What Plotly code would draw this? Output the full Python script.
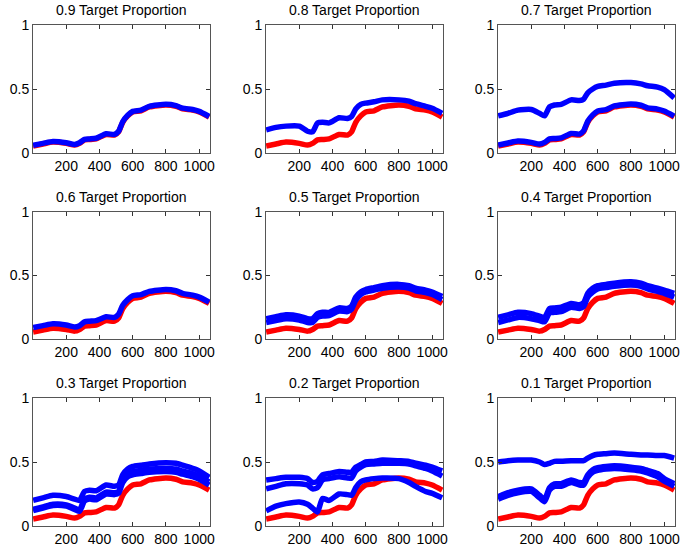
import plotly.graph_objects as go

# Shared wavelength/band grid (x)
X = [1, 60, 120, 200, 250, 280, 310, 340, 380, 440, 490, 515, 540, 570, 600, 650, 700, 800, 860, 900, 960, 1000, 1060]

# Target spectrum (red), same in every panel
TARGET = [0.055, 0.07, 0.085, 0.075, 0.062, 0.075, 0.102, 0.105, 0.11, 0.145, 0.14, 0.165, 0.24, 0.29, 0.32, 0.33, 0.36, 0.375, 0.365, 0.345, 0.335, 0.32, 0.28]

# Mixed spectra (blue) per target proportion
P09 = [[0.06, 0.075, 0.09, 0.08, 0.066, 0.08, 0.107, 0.11, 0.115, 0.15, 0.145, 0.17, 0.245, 0.295, 0.325, 0.335, 0.365, 0.38, 0.37, 0.35, 0.34, 0.325, 0.285]]
P08 = [[0.18, 0.20, 0.21, 0.21, 0.17, 0.165, 0.235, 0.24, 0.235, 0.275, 0.27, 0.285, 0.345, 0.38, 0.39, 0.40, 0.415, 0.415, 0.405, 0.385, 0.365, 0.35, 0.31]]
P07 = [[0.29, 0.31, 0.335, 0.34, 0.31, 0.29, 0.36, 0.375, 0.38, 0.415, 0.41, 0.42, 0.47, 0.50, 0.52, 0.53, 0.545, 0.55, 0.54, 0.525, 0.515, 0.495, 0.43],
       [0.063, 0.078, 0.093, 0.083, 0.07, 0.083, 0.11, 0.113, 0.118, 0.153, 0.148, 0.173, 0.248, 0.298, 0.328, 0.338, 0.368, 0.383, 0.373, 0.353, 0.343, 0.328, 0.288]]
P06 = [[0.09, 0.105, 0.12, 0.11, 0.095, 0.105, 0.135, 0.14, 0.145, 0.175, 0.17, 0.195, 0.265, 0.31, 0.34, 0.35, 0.375, 0.39, 0.38, 0.36, 0.345, 0.33, 0.29]]
P05 = [[0.16, 0.175, 0.19, 0.18, 0.16, 0.16, 0.20, 0.21, 0.21, 0.245, 0.24, 0.26, 0.33, 0.37, 0.39, 0.405, 0.42, 0.43, 0.42, 0.40, 0.385, 0.37, 0.335],
       [0.13, 0.145, 0.16, 0.15, 0.13, 0.13, 0.17, 0.18, 0.185, 0.22, 0.215, 0.235, 0.305, 0.35, 0.37, 0.385, 0.40, 0.41, 0.40, 0.38, 0.365, 0.35, 0.31]]
P04 = [[0.17, 0.19, 0.21, 0.20, 0.18, 0.17, 0.24, 0.245, 0.25, 0.28, 0.27, 0.285, 0.36, 0.40, 0.42, 0.43, 0.44, 0.45, 0.44, 0.42, 0.40, 0.385, 0.36],
       [0.13, 0.15, 0.17, 0.16, 0.145, 0.135, 0.205, 0.21, 0.215, 0.25, 0.24, 0.255, 0.33, 0.37, 0.395, 0.405, 0.415, 0.425, 0.415, 0.395, 0.375, 0.36, 0.33]]
P03 = [[0.20, 0.22, 0.24, 0.23, 0.21, 0.20, 0.27, 0.28, 0.275, 0.32, 0.31, 0.32, 0.40, 0.445, 0.465, 0.475, 0.485, 0.495, 0.49, 0.475, 0.45, 0.43, 0.38],
       [0.13, 0.15, 0.17, 0.165, 0.14, 0.125, 0.21, 0.225, 0.22, 0.265, 0.26, 0.27, 0.36, 0.405, 0.425, 0.435, 0.445, 0.45, 0.445, 0.43, 0.41, 0.39, 0.345],
       [0.12, 0.14, 0.16, 0.155, 0.13, 0.115, 0.195, 0.21, 0.205, 0.25, 0.245, 0.255, 0.34, 0.385, 0.40, 0.41, 0.42, 0.425, 0.42, 0.405, 0.385, 0.365, 0.32]]
P02 = [[0.36, 0.37, 0.38, 0.38, 0.37, 0.34, 0.35, 0.40, 0.41, 0.425, 0.42, 0.42, 0.46, 0.48, 0.50, 0.505, 0.515, 0.51, 0.505, 0.49, 0.475, 0.46, 0.43],
       [0.29, 0.31, 0.33, 0.33, 0.32, 0.29, 0.30, 0.36, 0.37, 0.385, 0.375, 0.375, 0.43, 0.46, 0.48, 0.485, 0.49, 0.49, 0.485, 0.47, 0.45, 0.43, 0.39],
       [0.118, 0.155, 0.175, 0.188, 0.17, 0.14, 0.11, 0.215, 0.20, 0.25, 0.245, 0.24, 0.30, 0.345, 0.36, 0.37, 0.375, 0.37, 0.34, 0.31, 0.27, 0.255, 0.22]]
P01 = [[0.50, 0.51, 0.515, 0.515, 0.50, 0.48, 0.49, 0.505, 0.505, 0.51, 0.51, 0.51, 0.53, 0.55, 0.56, 0.565, 0.57, 0.56, 0.555, 0.555, 0.55, 0.55, 0.53],
       [0.23, 0.26, 0.28, 0.29, 0.24, 0.21, 0.30, 0.33, 0.33, 0.36, 0.34, 0.34, 0.40, 0.44, 0.455, 0.465, 0.47, 0.46, 0.45, 0.435, 0.41, 0.37, 0.33],
       [0.21, 0.24, 0.26, 0.27, 0.22, 0.19, 0.28, 0.31, 0.31, 0.34, 0.32, 0.32, 0.38, 0.42, 0.435, 0.445, 0.45, 0.44, 0.43, 0.415, 0.385, 0.35, 0.31]]

TITLES = ["0.9 Target Proportion", "0.8 Target Proportion", "0.7 Target Proportion",
          "0.6 Target Proportion", "0.5 Target Proportion", "0.4 Target Proportion",
          "0.3 Target Proportion", "0.2 Target Proportion", "0.1 Target Proportion"]
PANELS = [P09, P08, P07, P06, P05, P04, P03, P02, P01]

X_TICKS = [200, 400, 600, 800, 1000]
Y_TICKS = [0, 0.5, 1]
Y_TICKTEXT = ["0", "0.5", "1"]

W, H = 681, 550
COL_PX = [(33, 210), (266, 443), (498, 675)]
ROW_PX = [(25, 153), (212, 339), (398, 526)]

FONT = "Liberation Sans, Arial, Helvetica, sans-serif"
LW = 5.5

fig = go.Figure()
layout = dict(width=W, height=H, margin=dict(l=0, r=0, t=0, b=0, pad=0),
              paper_bgcolor="white", plot_bgcolor="white", showlegend=False,
              font=dict(family=FONT, size=14, color="black"))
annotations = []

for i, (title, blues) in enumerate(zip(TITLES, PANELS)):
    r, c = divmod(i, 3)
    n = i + 1
    xa = "x" if n == 1 else f"x{n}"
    ya = "y" if n == 1 else f"y{n}"
    fig.add_trace(go.Scatter(x=X, y=TARGET, mode="lines", xaxis=xa, yaxis=ya,
                             line=dict(color="#ff0000", width=LW, shape="spline", smoothing=0.6)))
    for b in blues:
        fig.add_trace(go.Scatter(x=X, y=b, mode="lines", xaxis=xa, yaxis=ya,
                                 line=dict(color="#0000ff", width=LW, shape="spline", smoothing=0.6)))
    x0, x1 = COL_PX[c]
    y0, y1 = ROW_PX[r]
    xd = [x0 / W, x1 / W]
    yd = [1 - y1 / H, 1 - y0 / H]
    common = dict(showline=True, linecolor="#555", linewidth=1, mirror="allticks",
                  ticks="inside", ticklen=4, tickcolor="#333", showgrid=False,
                  zeroline=False, automargin=False,
                  tickfont=dict(family=FONT, size=14, color="black"))
    layout["xaxis" if n == 1 else f"xaxis{n}"] = dict(
        domain=xd, range=[0, 1065], tickvals=X_TICKS, anchor=ya, **common)
    layout["yaxis" if n == 1 else f"yaxis{n}"] = dict(
        domain=yd, range=[0, 1], tickvals=Y_TICKS, ticktext=Y_TICKTEXT, anchor=xa, **common)
    annotations.append(dict(text=title, xref="paper", yref="paper",
                            x=(xd[0] + xd[1]) / 2, y=yd[1], xanchor="center", yanchor="bottom",
                            yshift=5, showarrow=False,
                            font=dict(family=FONT, size=14, color="black")))

layout["annotations"] = annotations
fig.update_layout(**layout)
fig.write_html("out.html", config={"displayModeBar": False},
               post_script="document.body.style.margin='0px';document.body.style.overflow='hidden';")
